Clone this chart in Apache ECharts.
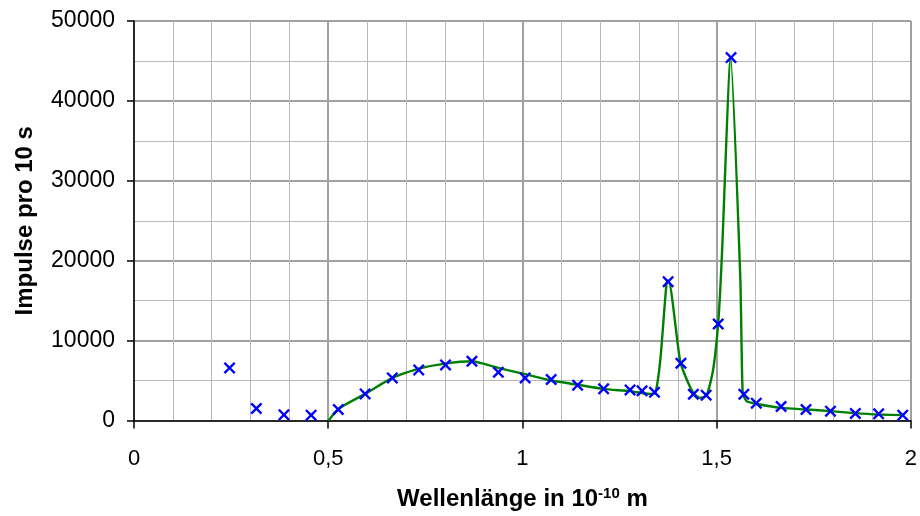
<!DOCTYPE html>
<html lang="de">
<head>
    <meta charset="UTF-8"/>
    <title>Impulse pro 10 s</title>
    <script src="https://cdn.jsdelivr.net/npm/echarts@6/dist/echarts.min.js"></script>
    <style>
        html, body { margin: 0; padding: 0; background: #fff; }
    </style>
</head>
<body>
<div id="main" style="width: 920px;height: 516px;"></div>
<script type="text/javascript">
    // Messpunkte (Kreuze)
    var pointX = [0.246, 0.315, 0.386, 0.456, 0.526, 0.595, 0.665, 0.733, 0.802, 0.870, 0.938, 1.007,
        1.074, 1.142, 1.209, 1.277, 1.308, 1.340, 1.375, 1.408, 1.440, 1.473, 1.504, 1.537,
        1.570, 1.602, 1.666, 1.730, 1.793, 1.857, 1.917, 1.979];
    var pointY = [6580, 1500, 710, 670, 1375, 3330, 5330, 6330, 6960, 7420, 6040, 5330,
        5125, 4420, 3960, 3830, 3710, 3540, 17375, 7170, 3290, 3170, 12080, 45420,
        3290, 2170, 1750, 1375, 1170, 875, 830, 670];

    // Ausgleichskurve (gruen)
    var lineX = [0.501, 0.526, 0.595, 0.665, 0.733, 0.801, 0.870, 0.938, 1.007, 1.071, 1.140, 1.208,
        1.277, 1.328, 1.342, 1.355, 1.371, 1.376, 1.406, 1.423, 1.440, 1.457, 1.474, 1.491,
        1.504, 1.513, 1.536, 1.561, 1.567, 1.577, 1.600, 1.667, 1.732, 1.792, 1.856, 1.916, 1.980];
    var lineY = [0, 1450, 3330, 5330, 6500, 7125, 7420, 6580, 5800, 5040, 4500, 3960,
        3670, 3330, 3460, 7625, 17200, 17540, 7420, 5125, 3460, 2830, 3125, 6375,
        12210, 20125, 45340, 17625, 3460, 2415, 2100, 1580, 1375, 1170, 920, 750, 670];

    var xTicks = ['0', '0,5', '1', '1,5', '2'];

    function pairs(xs, ys) {
        var out = [];
        for (var i = 0; i < xs.length; i++) {
            out.push([xs[i], ys[i]]);
        }
        return out;
    }

    var cross = 'path://M0,1.4L1.4,0L5,3.6L8.6,0L10,1.4L6.4,5L10,8.6L8.6,10L5,6.4L1.4,10L0,8.6L3.6,5Z';
    var font = "'Liberation Sans', Arial, sans-serif";

    var myChart = echarts.init(document.getElementById('main'));

    myChart.setOption({
        animation: false,
        grid: {left: 134, right: 9, top: 21, bottom: 95},
        xAxis: {
            type: 'value',
            min: 0,
            max: 2,
            interval: 0.5,
            name: '{a|Wellenlänge in 10}{b|-10}{a| m}',
            nameLocation: 'middle',
            nameGap: 66,
            nameTextStyle: {
                rich: {
                    a: {fontFamily: font, fontSize: 24, fontWeight: 'bold', color: '#000'},
                    b: {fontFamily: font, fontSize: 15, fontWeight: 'bold', color: '#000',
                        verticalAlign: 'top', padding: [0, 0, 10, 0]}
                }
            },
            axisLine: {lineStyle: {color: '#000', width: 1.5}},
            axisTick: {show: true, length: 8, lineStyle: {color: '#000', width: 1.5}},
            minorTick: {show: false, splitNumber: 5},
            axisLabel: {
                margin: 27,
                fontFamily: font,
                fontSize: 22,
                color: '#000',
                formatter: function (v) {
                    return xTicks[Math.round(v / 0.5)];
                }
            },
            splitLine: {show: true, lineStyle: {color: '#a0a0a0', width: 2}},
            minorSplitLine: {show: true, lineStyle: {color: '#b8b8b8', width: 1}}
        },
        yAxis: {
            type: 'value',
            min: 0,
            max: 50000,
            interval: 10000,
            name: 'Impulse pro 10 s',
            nameLocation: 'middle',
            nameGap: 97,
            nameTextStyle: {fontFamily: font, fontSize: 24, fontWeight: 'bold', color: '#000'},
            axisLine: {show: true, lineStyle: {color: '#000', width: 1.5}},
            axisTick: {show: true, length: 7, lineStyle: {color: '#000', width: 1.5}},
            minorTick: {show: false, splitNumber: 2},
            axisLabel: {
                margin: 19,
                fontFamily: font,
                fontSize: 23,
                color: '#000',
                formatter: function (v) {
                    return String(v);
                }
            },
            splitLine: {show: true, lineStyle: {color: '#a0a0a0', width: 2}},
            minorSplitLine: {show: true, lineStyle: {color: '#b8b8b8', width: 1}}
        },
        series: [{
            name: 'Kurve',
            type: 'line',
            data: pairs(lineX, lineY),
            smooth: 0.2,
            showSymbol: false,
            lineStyle: {color: '#008000', width: 2.4},
            z: 2
        }, {
            name: 'Messwerte',
            type: 'scatter',
            data: pairs(pointX, pointY),
            symbol: cross,
            symbolSize: 12,
            itemStyle: {color: '#0000ff', opacity: 1},
            z: 3
        }]
    });
</script>
</body>
</html>
